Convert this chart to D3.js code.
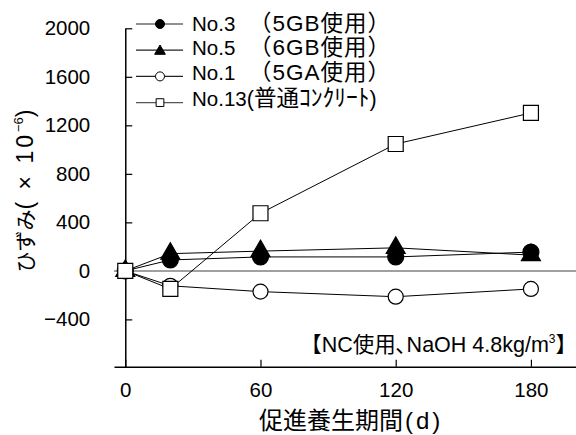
<!DOCTYPE html>
<html lang="ja">
<head>
  <meta charset="UTF-8">
  <title>ひずみ</title>
  <script src="https://d3js.org/d3.v7.min.js"></script>
  <style>
    body { margin: 0; background: #fff; }
    text { font-family: "Liberation Sans", Arial, "Noto Sans CJK JP", sans-serif; fill: #000; }
    .cjk { font-family: "Noto Sans CJK JP", sans-serif; }
  </style>
</head>
<body>
<script>
// data
var days = [0, 20, 60, 120, 180];
var seriesNo = ["No.3", "No.5", "No.1", "No.13"];
var seriesMat = ["（5GB使用）", "（6GB使用）", "（5GA使用）", "(普通ｺﾝｸﾘｰﾄ)"];
var no3 = [0, 90, 115, 115, 155];
var no5 = [0, 142, 163, 190, 130];
var no1 = [0, -123, -171, -213, -149];
var no13 = [0, -149, 475, 1046, 1302];
var yTicks = [-400, 0, 400, 800, 1200, 1600, 2000];
var xTicks = [0, 60, 120, 180];

var W = 576, H = 435;
var svg = d3.select("body").append("svg")
  .attr("width", W).attr("height", H);

var x = d3.scaleLinear().domain([-5, 200]).range([114, 576]);
var y = d3.scaleLinear().domain([-790, 2000]).range([366.7, 28.3]);

// zero line
svg.append("line")
  .attr("x1", x(-5)).attr("x2", x(200))
  .attr("y1", y(0)).attr("y2", y(0))
  .attr("stroke", "#808080").attr("stroke-width", 1.5);

// axes
var yAxis = svg.append("g")
  .attr("transform", "translate(" + x(0) + ",0)")
  .call(d3.axisLeft(y).tickValues(yTicks).tickSizeInner(-7).tickSizeOuter(0).tickPadding(35)
    .tickFormat(function(d) { return d < 0 ? "\u2212" + Math.abs(d) : d; }));
var xAxis = svg.append("g")
  .attr("transform", "translate(0," + y(-790) + ")")
  .call(d3.axisBottom(x).tickValues(xTicks).tickSizeInner(-7).tickSizeOuter(0).tickPadding(16));
[yAxis, xAxis].forEach(function(g) {
  g.selectAll("path.domain").attr("stroke", "#000").attr("stroke-width", 1.5);
  g.selectAll(".tick line").attr("stroke", "#000").attr("stroke-width", 1.2);
  g.selectAll(".tick text").attr("font-size", 20.5)
    .style("font-family", "'Liberation Sans', Arial, sans-serif");
});

// series
var series = [
  { vals: no3, type: d3.symbolCircle, size: 200, fill: "#000" },
  { vals: no5, type: d3.symbolTriangle, size: 156, fill: "#000" },
  { vals: no1, type: d3.symbolCircle, size: 177, fill: "#fff" },
  { vals: no13, type: d3.symbolSquare, size: 225, fill: "#fff" }
];
var legSize = [64, 50, 64, 60];

var line = d3.line()
  .x(function(d, i) { return x(days[i]); })
  .y(function(d) { return y(d); });

series.forEach(function(s) {
  svg.append("path")
    .attr("d", line(s.vals))
    .attr("fill", "none").attr("stroke", "#000").attr("stroke-width", 1);
});
series.forEach(function(s) {
  svg.selectAll(null)
    .data(s.vals)
    .enter()
    .append("path")
    .attr("d", d3.symbol().type(s.type).size(s.size))
    .attr("transform", function(d, i) { return "translate(" + x(days[i]) + "," + y(d) + ")"; })
    .attr("fill", s.fill)
    .attr("stroke", "#000").attr("stroke-width", 1.2);
});

// legend
var leg = svg.append("g");
var textBase = [30.5, 55, 79.5, 105.5];
series.forEach(function(s, i) {
  var ly = 24 + i * 26.2;
  leg.append("line")
    .attr("x1", 136).attr("x2", 183).attr("y1", ly).attr("y2", ly)
    .attr("stroke", i == 3 ? "#555" : "#222").attr("stroke-width", 1.2);
  leg.append("path")
    .attr("d", d3.symbol().type(s.type).size(legSize[i]))
    .attr("transform", "translate(160," + (s.type === d3.symbolTriangle ? ly + 1 : ly) + ")")
    .attr("fill", s.fill).attr("stroke", "#000").attr("stroke-width", 1);
  var t = leg.append("text")
    .attr("x", 192).attr("y", textBase[i])
    .attr("font-size", 20.5);
  t.append("tspan").text(seriesNo[i]);
  if (i < 3) {
    t.append("tspan").attr("x", 249).attr("font-size", 22.5).attr("letter-spacing", 1).text(seriesMat[i]);
  } else {
    t.append("tspan").attr("font-size", 21.5).text("(");
    t.append("tspan").attr("class", "cjk").attr("font-size", 22.5).text(seriesMat[i].slice(1, 3));
    t.append("tspan").attr("class", "cjk").attr("font-size", 23.5).text(seriesMat[i].slice(3, 9));
    t.append("tspan").attr("font-size", 21.5).text(")");
  }
});

// annotation
svg.append("text")
  .attr("x", 577).attr("y", 352)
  .attr("text-anchor", "end")
  .attr("font-size", 21.5)
  .html("【NC使用､NaOH 4.8kg/m<tspan dy='-9' font-size='12'>3</tspan><tspan dy='9'>】</tspan>");

// axis titles
var xt = svg.append("text")
  .attr("x", 259).attr("y", 429)
  .attr("font-size", 24);
xt.append("tspan").attr("class", "cjk").text("促進養生期間");
xt.append("tspan").attr("dx", 2).attr("letter-spacing", 3).text("(d)");

var yt = svg.append("text")
  .attr("transform", "translate(33,191) rotate(-90)")
  .attr("text-anchor", "middle")
  .attr("font-size", 21);
yt.append("tspan").attr("class", "cjk").text("ひずみ");
yt.append("tspan").attr("font-size", 23).attr("letter-spacing", 3).text("( × 10");
yt.append("tspan").attr("dy", -10).attr("font-size", 13).text("−6");
yt.append("tspan").attr("dy", 10).attr("font-size", 23).text(")");
</script>
</body>
</html>
